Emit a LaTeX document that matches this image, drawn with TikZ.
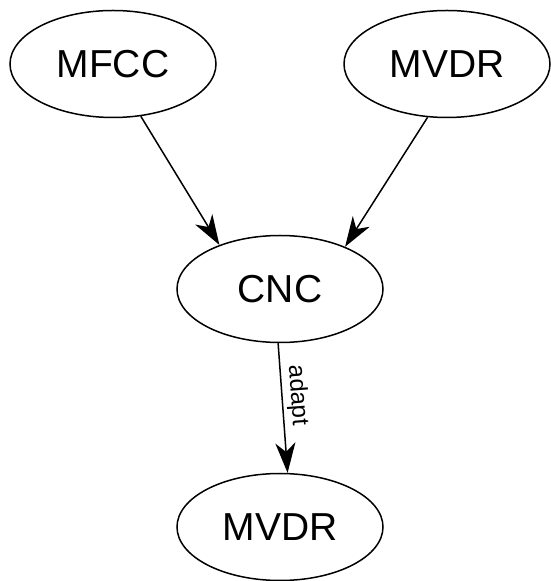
\documentclass[tikz,border=0pt]{standalone}
\usepackage{fontspec}
\setmainfont{Liberation Sans}
\usetikzlibrary{shapes.geometric,arrows.meta}
\begin{document}
\begin{tikzpicture}[x=1pt,y=1pt]

    \tikzset{
      feat/.style={
        draw,
        ellipse,
        line width=1.5pt,
        inner sep=0pt,
        minimum width=206pt,
        minimum height=107pt,
        font=\fontsize{39}{41}\selectfont,
      },
      link/.style={
        line width=1.5pt,
        -{Stealth[length=30pt,width=20pt,inset=9pt]},
      },
    }
    \useasboundingbox (0,0) rectangle (550,581);
	\node[feat] (mfcc) at (113,517) {MFCC};
	\node[feat] (mvdr) at (447,517) {MVDR};
	\node[feat] (cnc) at (280,292) {CNC};
	\node[feat] (mvdrout) at (280,54) {MVDR};
	\draw[link] (mfcc.-62)--(cnc.144);
	\draw[link] (mvdr.-110)--(cnc.33);
	\draw[link] (cnc.-92)--(mvdrout.82) node[pos=0.41,sloped,above,font=\fontsize{24}{26}\selectfont] {adapt};

\end{tikzpicture}
\end{document}
